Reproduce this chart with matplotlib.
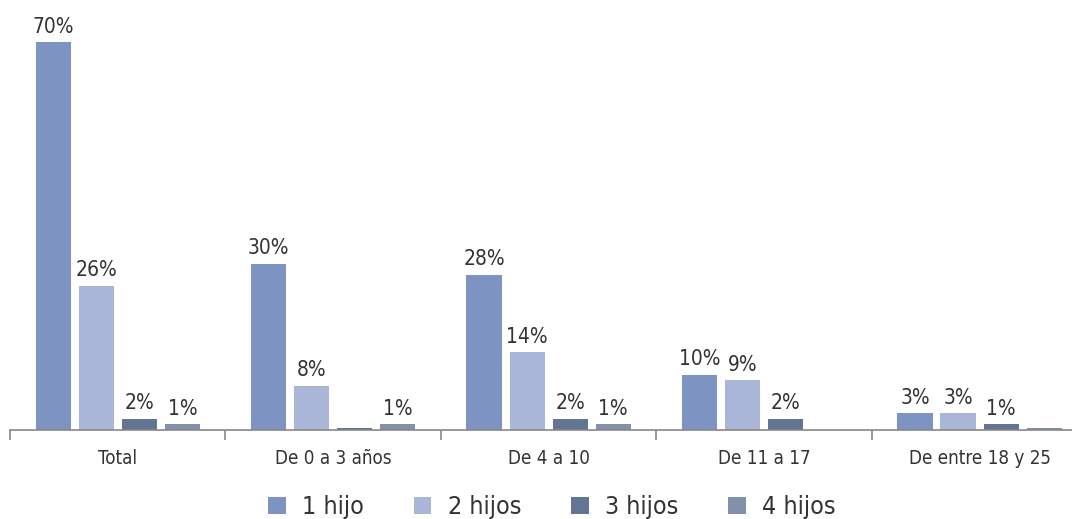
import matplotlib
matplotlib.use('Agg')
import matplotlib.pyplot as plt
import numpy as np

# Porcentaje de hogares por número de hijos y tramo de edad
grupos = ['Total', 'De 0 a 3 años', 'De 4 a 10', 'De 11 a 17', 'De entre 18 y 25']
series = ['1 hijo', '2 hijos', '3 hijos', '4 hijos']
un_hijo = [70, 30, 28, 10, 3]
dos_hijos = [26, 8, 14, 9, 3]
tres_hijos = [2, 0.4, 2, 2, 1]
cuatro_hijos = [1, 1, 1, 0, 0.4]
# etiquetas que se muestran encima de cada barra (None = sin etiqueta)
etiquetas = [
    ['70%', '30%', '28%', '10%', '3%'],
    ['26%', '8%', '14%', '9%', '3%'],
    ['2%', None, '2%', '2%', '1%'],
    ['1%', '1%', '1%', None, None],
]
colores = ['#7d94c3', '#a9b6d8', '#647594', '#8290ab']

plt.rcParams['font.family'] = ['DejaVu Sans']
plt.rcParams['font.stretch'] = 'condensed'
texto = '#333333'

fig = plt.figure(figsize=(10.72, 5.19), dpi=100)
ax = fig.add_axes([0.0093, 0.1715, 1.005, 0.8285])

x = np.arange(len(grupos))
ancho = 0.163
paso = 0.2
valores = [un_hijo, dos_hijos, tres_hijos, cuatro_hijos]
for i, (vals, col, nombre) in enumerate(zip(valores, colores, series)):
    pos = x + (i - 1.5) * paso
    ax.bar(pos, vals, width=ancho, color=col, label=nombre, zorder=2)
    for p, v, et in zip(pos, vals, etiquetas[i]):
        if et is not None:
            ax.text(p, v + 1.0, et, ha='center', va='bottom',
                    fontsize=15, color=texto)

ax.set_xlim(-0.5, len(grupos) - 0.5)
ax.set_ylim(0, 77.6)
ax.set_yticks([])
for lado in ['top', 'right', 'left']:
    ax.spines[lado].set_visible(False)
ax.spines['bottom'].set_color('#888888')
ax.spines['bottom'].set_linewidth(1.2)

# marcas entre grupos y nombres centrados
ax.set_xticks(np.arange(-0.5, len(grupos)), minor=False)
ax.set_xticklabels([])
ax.tick_params(axis='x', length=7, color='#888888', width=1.2)
for xi, g in zip(x, grupos):
    ax.text(xi, -3.4, g, ha='center', va='top', fontsize=13.5, color=texto)

ax.legend(loc='center', bbox_to_anchor=(0.503, -0.18), ncol=4, frameon=False,
          fontsize=18, handlelength=0.7, handleheight=0.7, columnspacing=2.0,
          handletextpad=0.65, labelcolor=texto)

fig.savefig('out.png', dpi=100)
plt.close()
